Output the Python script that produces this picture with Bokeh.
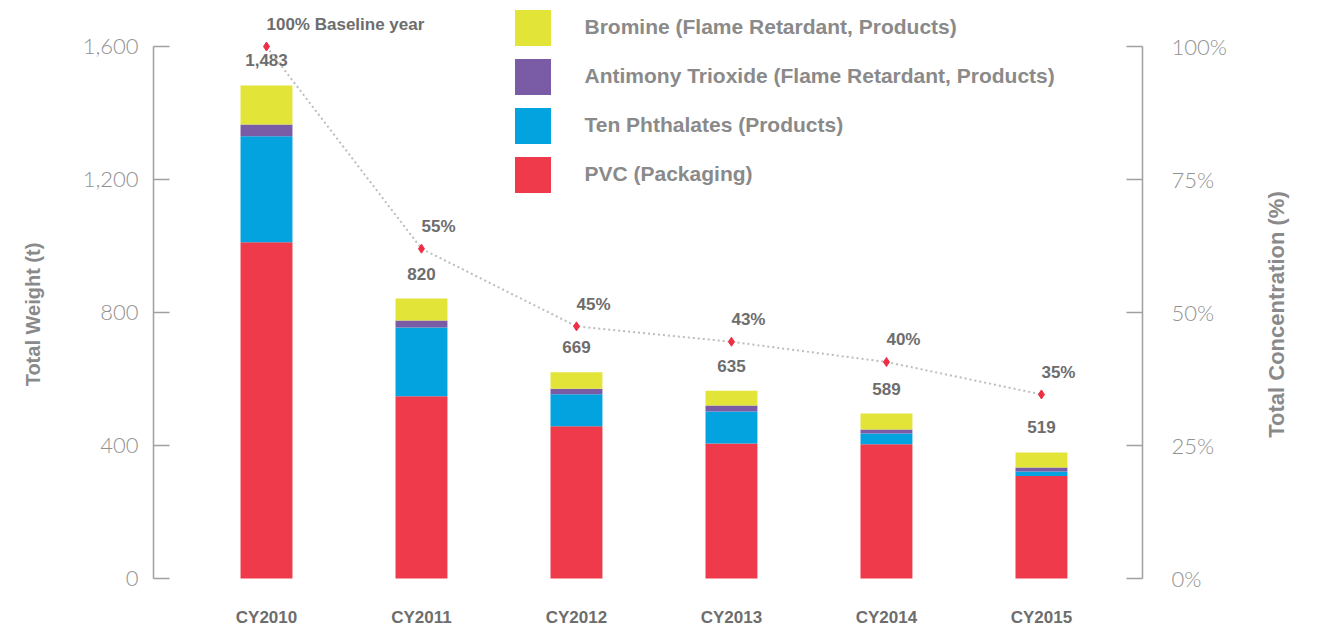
from bokeh.plotting import figure
from bokeh.layouts import row
from bokeh.models import (Range1d, LinearAxis, FixedTicker, NumeralTickFormatter,
                          Legend, LegendItem, ColumnDataSource)
from bokeh.core.properties import value
from bokeh.embed import file_html
from bokeh.resources import INLINE

# ---------------- data ----------------
categories = ["CY2010", "CY2011", "CY2012", "CY2013", "CY2014", "CY2015"]
pvc = [1011, 548, 458, 406, 404, 308]
phthalates = [319, 207, 96, 96, 32, 14]
antimony = [35, 21, 17, 18, 12, 12]
bromine = [118, 66, 49, 45, 48, 45]
total_labels = ["1,483", "820", "669", "635", "589", "519"]
concentration = [100, 62, 47.4, 44.5, 40.7, 34.6]
conc_labels = ["100% Baseline year", "55%", "45%", "43%", "40%", "35%"]
series_keys = ["pvc", "phthalates", "antimony", "bromine"]
series_names = ["PVC (Packaging)", "Ten Phthalates (Products)",
                "Antimony Trioxide (Flame Retardant, Products)",
                "Bromine (Flame Retardant, Products)"]
colors = ["#ee3a4a", "#03a3e0", "#7a5ca6", "#e3e438"]
weight_ticks = [0, 400, 800, 1200, 1600]
pct_ticks = [0, 25, 50, 75, 100]

xs = list(range(len(categories)))
tops = [a + b + c + d for a, b, c, d in zip(pvc, phthalates, antimony, bromine)]
src = ColumnDataSource(dict(x=xs, cat=categories, pvc=pvc, phthalates=phthalates,
                            antimony=antimony, bromine=bromine, top=tops,
                            total_label=total_labels, conc=concentration,
                            conc_label=conc_labels, zero=[0] * len(xs)))

BOLD = value("Liberation Sans")

p = figure(width=1260, height=628, output_backend="svg", toolbar_location=None,
           x_range=Range1d(-0.729, 5.652), y_range=Range1d(-150.4, 1738.3),
           x_axis_location=None, min_border_left=153, min_border_right=118,
           min_border_top=0, min_border_bottom=0)
p.outline_line_color = None
p.grid.visible = False
p.background_fill_color = "white"


def style_axis(a, standoff):
    a.major_tick_in = 16
    a.major_tick_out = 0
    a.minor_tick_in = 0
    a.minor_tick_out = 0
    a.axis_line_color = "#a0a0a0"
    a.axis_line_width = 1.5
    a.major_tick_line_color = "#a0a0a0"
    a.major_tick_line_width = 1.5
    a.major_label_standoff = standoff
    a.major_label_text_font = "Lato Light"
    a.major_label_text_font_size = "22px"
    a.major_label_text_color = "#929292"
    a.major_label_text_baseline = "alphabetic"
    a.axis_label_text_font = "Liberation Sans"
    a.axis_label_text_font_style = "bold"
    a.axis_label_text_font_size = "20px"
    a.axis_label_text_color = "#8a8a8a"


# left axis
ax = p.yaxis[0]
ax.ticker = FixedTicker(ticks=weight_ticks)
ax.formatter = NumeralTickFormatter(format="0,0")
ax.bounds = (0, 1600)
style_axis(ax, 15)
ax.axis_label = "Total Weight (t)"
ax.axis_label_standoff = 36

# right axis
p.extra_y_ranges = {"pct": Range1d(-9.398, 108.65)}
rax = LinearAxis(y_range_name="pct", ticker=FixedTicker(ticks=pct_ticks),
                 bounds=(0, 100),
                 major_label_overrides={t: f"{t}%" for t in pct_ticks})
style_axis(rax, 29)
p.add_layout(rax, "right")

# stacked bars
rs = p.vbar_stack(series_keys, x="x", width=0.335, fill_color=colors,
                  line_color=None, source=src)

# total labels
p.text(x="x", y="top", text="total_label", source=src, y_offset=-25,
       text_align="center", text_baseline="middle", text_font=BOLD,
       text_font_style="bold", text_font_size="17px", text_color="#6d6d6d")

# concentration line
p.line(x="x", y="conc", source=src, y_range_name="pct", line_color="#bdbdbd",
       line_width=2, line_dash="2 3")
p.scatter(x="x", y="conc", source=src, y_range_name="pct", marker="diamond",
          size=9, fill_color="#ee2e45", line_color="#ee2e45")
p.text(x="x", y="conc", text="conc_label", source=src, y_range_name="pct",
       y_offset=-22, text_align="left", text_baseline="middle", text_font=BOLD,
       text_font_style="bold", text_font_size="17px", text_color="#6d6d6d")

# category labels
p.text(x="x", y="zero", text="cat", source=src, y_offset=39,
       text_align="center", text_baseline="middle", text_font=BOLD,
       text_font_style="bold", text_font_size="17px", text_color="#6d6d6d")

# legend
items = [LegendItem(label=series_names[i], renderers=[rs[i]]) for i in reversed(range(4))]
legend = Legend(items=items, location=(356.5, 431.5), orientation="vertical",
                glyph_width=45, glyph_height=45, label_height=45, spacing=4,
                padding=0, margin=0, border_line_color=None,
                background_fill_alpha=0, label_standoff=30,
                label_text_font="Liberation Sans", label_text_font_style="bold",
                label_text_font_size="21px", label_text_color="#8a8a8a")
p.add_layout(legend)

# narrow companion figure carrying the right-hand axis title (reads bottom-to-top)
side = figure(width=62, height=628, output_backend="svg", toolbar_location=None,
              x_range=Range1d(0, 1), y_range=Range1d(-9.398, 108.65),
              x_axis_location=None, min_border_left=27, min_border_right=0,
              min_border_top=0, min_border_bottom=0)
side.outline_line_color = None
side.grid.visible = False
sax = side.yaxis[0]
sax.ticker = FixedTicker(ticks=[])
sax.axis_line_color = None
sax.major_tick_line_color = None
sax.minor_tick_line_color = None
sax.major_tick_out = 0
sax.major_label_standoff = 0
sax.axis_label = "Total Concentration (%)"
sax.axis_label_standoff = 0
sax.axis_label_text_font = "Liberation Sans"
sax.axis_label_text_font_style = "bold"
sax.axis_label_text_font_size = "22px"
sax.axis_label_text_color = "#8a8a8a"
side.line(x=[0, 1], y=[0, 0], line_alpha=0)

layout = row(p, side, spacing=0)
open("out.html", "w").write(file_html(layout, INLINE))
